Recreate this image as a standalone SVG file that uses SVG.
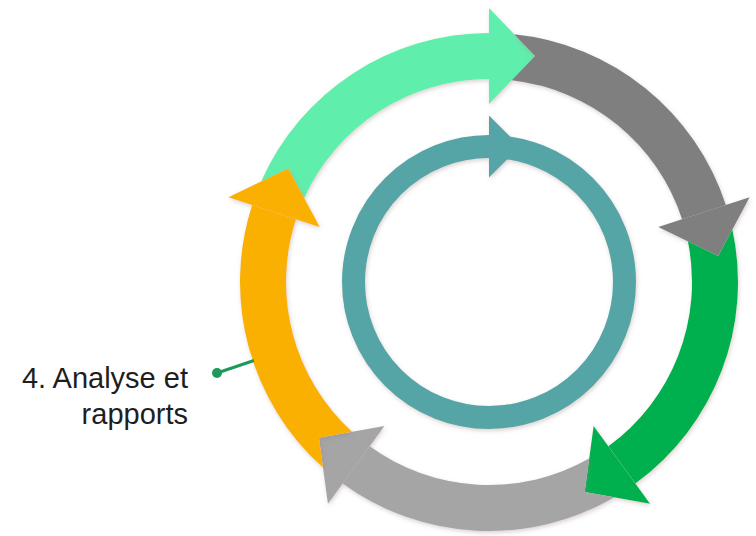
<svg xmlns="http://www.w3.org/2000/svg" width="756" height="536" viewBox="0 0 756 536">
  <defs>
    <filter id="sh" x="-10%" y="-10%" width="120%" height="120%">
      <feDropShadow dx="1" dy="2" stdDeviation="2" flood-color="#9a8080" flood-opacity="0.35"/>
    </filter>
    <style>
      .node { filter: url(#sh); }
      .mint { fill: #60eead; }
      .dgray { fill: #7f7f7f; }
      .green { fill: #00b050; }
      .lgray { fill: #a5a5a5; }
      .orange { fill: #fab003; }
      .teal { fill: none; stroke: #55a5a6; stroke-width: 23; }
      .tealf { fill: #55a5a6; }
      .label { font-family: "Liberation Sans", Arial, sans-serif; font-size: 29px; fill: #1e1e1e; text-anchor: end; }
      .conn { stroke: #1d9a5b; stroke-width: 3; fill: none; }
    </style>
  </defs>
  <rect width="756" height="536" fill="#ffffff"/>

  <g id="inner-cycle" class="node">
    <circle class="teal" cx="489" cy="282" r="135.5"/>
    <polygon class="tealf" points="489,115.5 520,146.5 489,177.5"/>
  </g>

  <g id="step-1" class="node">
    <path class="mint" d="M 261.17 181.52 A 249 249 0 0 1 489 33 L 489 79 A 203 203 0 0 0 304.15 198.04 L 288.28 168.41 Z"/>
    <polygon class="mint" points="489,8 535,56 489,104"/>
  </g>

  <g id="step-2" class="node">
    <path class="dgray" d="M 514.16 34.27 A 249 249 0 0 1 725.81 205.05 L 682.07 219.27 A 203 203 0 0 0 511.73 80.28 L 535 56 Z"/>
    <polygon class="dgray" points="749.59,197.33 718.15,255.91 658.29,227.00"/>
  </g>

  <g id="step-3" class="node">
    <path class="green" d="M 732.38 229.38 A 249 249 0 0 1 635.36 483.45 L 608.32 446.23 A 203 203 0 0 0 687.88 241.29 L 718.15 255.91 Z"/>
    <polygon class="green" points="650.05,503.67 584.63,491.88 593.63,426.01"/>
  </g>

  <g id="step-4-body" class="node">
    <path class="lgray" d="M 614.25 497.20 A 249 249 0 0 1 342.64 483.45 L 369.68 446.23 A 203 203 0 0 0 589.18 458.56 L 584.63 491.88 Z"/>
    <polygon class="lgray" points="327.95,503.67 318.95,437.80 384.37,426.01"/>
  </g>

  <g id="step-4-analyse" class="node">
    <path class="orange" d="M 323.03 467.62 A 249 249 0 0 1 252.19 205.05 L 295.93 219.27 A 203 203 0 0 0 352.04 431.84 L 318.95 437.80 Z"/>
    <polygon class="orange" points="228.41,197.33 288.27,168.41 319.71,227.00"/>
  </g>

  <g id="connectors">
    <line class="conn" x1="217" y1="373" x2="254" y2="360.5"/>
    <circle cx="217" cy="373" r="5" fill="#1d9a5b"/>
  </g>

  <g id="label-4">
    <text class="label" x="188" y="388">4. Analyse et</text>
    <text class="label" x="188" y="424">rapports</text>
  </g>
</svg>
